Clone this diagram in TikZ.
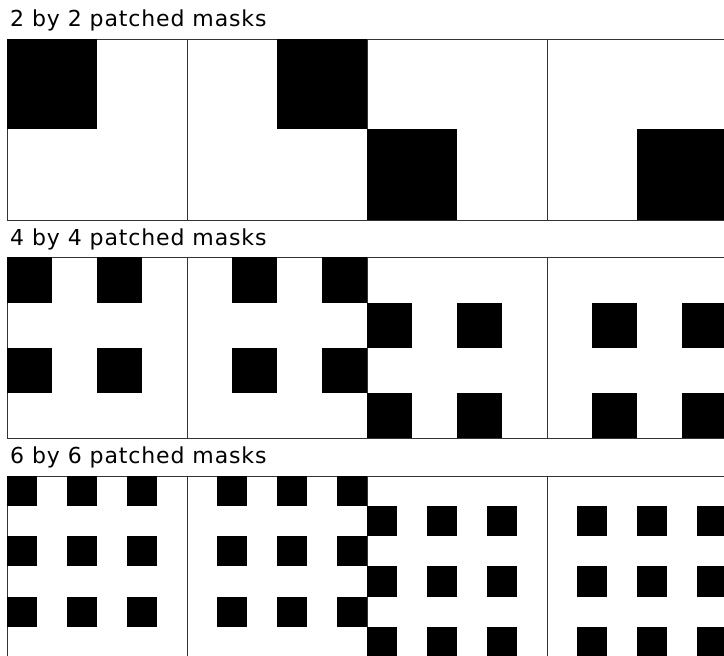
\documentclass[tikz,border=0pt]{standalone}
\usepackage{fontspec}
\setmainfont{DejaVu Sans}[LetterSpace=4]
\begin{document}
\begin{tikzpicture}[x=1pt, y=1pt, line join=miter,
    panel/.style={draw=black!80, line width=0.9pt},
    patch/.style={fill=black},
    caption/.style={anchor=base west, inner sep=0pt, font=\fontsize{22}{26}\selectfont}]
  \useasboundingbox (0,0) rectangle (724,656);
  \clip (0,0) rectangle (724,656);
  \node[caption] (cap2) at (10,629) {2 by 2 patched masks};
  \node[caption] (cap4) at (10,410) {4 by 4 patched masks};
  \node[caption] (cap6) at (10,192) {6 by 6 patched masks};
  % one row per patch size: \n cells a side, \yt top edge
  \foreach \n/\yt in {2/617, 4/398.5, 6/180}{
    \pgfmathsetmacro{\w}{180/\n}
    \pgfmathsetmacro{\h}{181/\n}
    \pgfmathtruncatemacro{\m}{\n/2-1}
    \foreach \k in {0,...,3}{
      \pgfmathsetmacro{\xo}{7+180*\k}
      \pgfmathtruncatemacro{\co}{mod(\k,2)}
      \pgfmathtruncatemacro{\ro}{div(\k,2)}
      \draw[panel] (\xo,\yt) rectangle ++(180,-181);
      \foreach \i in {0,...,\m}
        \foreach \j in {0,...,\m}
          \fill[patch] ({\xo+(\co+2*\j)*\w},{\yt-(\ro+2*\i)*\h}) rectangle ++(\w,-\h);
    }
  }
\end{tikzpicture}
\end{document}
